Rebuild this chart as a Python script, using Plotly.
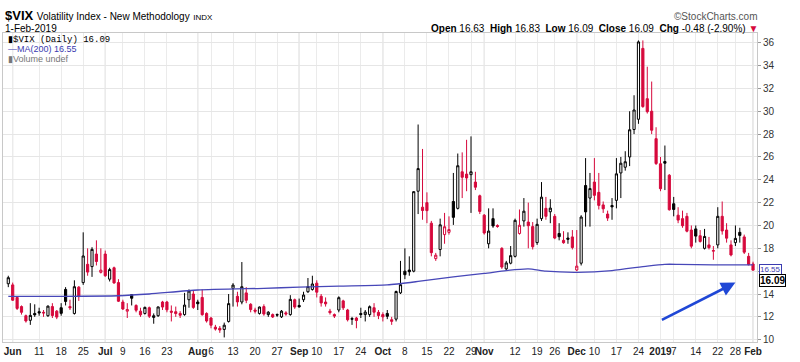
import plotly.graph_objects as go

# ---------------- data ----------------
dates = [
    "2018-05-31", "2018-06-01", "2018-06-04", "2018-06-05", "2018-06-06", "2018-06-07", "2018-06-08",
    "2018-06-11", "2018-06-12", "2018-06-13", "2018-06-14", "2018-06-15",
    "2018-06-18", "2018-06-19", "2018-06-20", "2018-06-21", "2018-06-22",
    "2018-06-25", "2018-06-26", "2018-06-27", "2018-06-28", "2018-06-29",
    "2018-07-02", "2018-07-03", "2018-07-05", "2018-07-06",
    "2018-07-09", "2018-07-10", "2018-07-11", "2018-07-12", "2018-07-13",
    "2018-07-16", "2018-07-17", "2018-07-18", "2018-07-19", "2018-07-20",
    "2018-07-23", "2018-07-24", "2018-07-25", "2018-07-26", "2018-07-27",
    "2018-07-30", "2018-07-31", "2018-08-01", "2018-08-02", "2018-08-03",
    "2018-08-06", "2018-08-07", "2018-08-08", "2018-08-09", "2018-08-10",
    "2018-08-13", "2018-08-14", "2018-08-15", "2018-08-16", "2018-08-17",
    "2018-08-20", "2018-08-21", "2018-08-22", "2018-08-23", "2018-08-24",
    "2018-08-27", "2018-08-28", "2018-08-29", "2018-08-30", "2018-08-31",
    "2018-09-04", "2018-09-05", "2018-09-06", "2018-09-07",
    "2018-09-10", "2018-09-11", "2018-09-12", "2018-09-13", "2018-09-14",
    "2018-09-17", "2018-09-18", "2018-09-19", "2018-09-20", "2018-09-21",
    "2018-09-24", "2018-09-25", "2018-09-26", "2018-09-27", "2018-09-28",
    "2018-10-01", "2018-10-02", "2018-10-03", "2018-10-04", "2018-10-05",
    "2018-10-08", "2018-10-09", "2018-10-10", "2018-10-11", "2018-10-12",
    "2018-10-15", "2018-10-16", "2018-10-17", "2018-10-18", "2018-10-19",
    "2018-10-22", "2018-10-23", "2018-10-24", "2018-10-25", "2018-10-26",
    "2018-10-29", "2018-10-30", "2018-10-31", "2018-11-01", "2018-11-02",
    "2018-11-05", "2018-11-06", "2018-11-07", "2018-11-08", "2018-11-09",
    "2018-11-12", "2018-11-13", "2018-11-14", "2018-11-15", "2018-11-16",
    "2018-11-19", "2018-11-20", "2018-11-21", "2018-11-23",
    "2018-11-26", "2018-11-27", "2018-11-28", "2018-11-29", "2018-11-30",
    "2018-12-03", "2018-12-04", "2018-12-06", "2018-12-07",
    "2018-12-10", "2018-12-11", "2018-12-12", "2018-12-13", "2018-12-14",
    "2018-12-17", "2018-12-18", "2018-12-19", "2018-12-20", "2018-12-21",
    "2018-12-24", "2018-12-26", "2018-12-27", "2018-12-28", "2018-12-31",
    "2019-01-02", "2019-01-03", "2019-01-04",
    "2019-01-07", "2019-01-08", "2019-01-09", "2019-01-10", "2019-01-11",
    "2019-01-14", "2019-01-15", "2019-01-16", "2019-01-17", "2019-01-18",
    "2019-01-22", "2019-01-23", "2019-01-24", "2019-01-25",
    "2019-01-28", "2019-01-29", "2019-01-30", "2019-01-31", "2019-02-01",
]

opens = [
    14.9, 14.8, 13.7, 12.9, 12.1, 11.7, 12.3,
    12.45, 12.4, 12.1, 12.9, 12.5,
    12.8, 14.4, 12.9, 12.3, 14.6,
    15.0, 16.6, 16.4, 17.5, 15.9,
    17.5, 15.3, 16.3, 15.0,
    13.3, 12.5, 13.95, 13.0, 12.5,
    12.3, 12.8, 11.95, 12.1, 13.3,
    13.3, 12.5, 12.45, 12.3, 12.2,
    13.5, 14.0, 13.3, 13.7, 12.3,
    11.9, 11.1, 11.0, 10.9, 11.6,
    14.5, 13.8, 13.3, 14.1, 13.1,
    12.6, 12.3, 12.9, 12.2, 12.2,
    12.2, 12.0, 12.35, 12.2, 13.5,
    13.0, 13.5, 14.2, 14.4,
    14.95, 13.8, 13.3, 12.5, 12.2,
    12.6, 13.4, 12.6, 11.85, 11.9,
    12.3, 12.2, 12.2, 12.8, 12.4,
    12.2, 12.3, 11.75, 11.8, 14.1,
    16.0, 16.1, 16.0, 23.0, 21.6,
    22.0, 20.2, 17.1, 17.9, 19.2,
    19.4, 22.1, 21.5, 24.7, 24.5,
    24.45, 23.8, 22.6, 20.9, 18.4,
    20.6, 20.0, 18.0, 16.2, 16.7,
    17.3, 19.3, 20.4, 20.3, 19.9,
    18.5, 20.6, 21.5, 21.2,
    20.8, 19.3, 18.7, 18.9, 19.0,
    16.1, 16.7, 23.5, 22.4,
    23.8, 22.9, 21.8, 21.0, 21.75,
    22.2, 24.6, 25.1, 26.0, 28.4,
    29.3, 35.5, 31.1, 30.0, 27.6,
    25.4, 25.6, 24.4,
    21.9, 20.9, 20.6, 20.8, 19.6,
    19.7, 19.1, 18.0, 18.3, 17.75,
    18.3, 20.8, 19.6, 18.3,
    18.5, 19.4, 19.0, 17.3, 16.63,
]

highs = [
    15.6, 15.0, 13.8, 13.0, 12.2, 13.2, 13.1,
    12.8, 12.6, 13.0, 13.2, 12.6,
    13.2, 14.6, 13.5, 15.2, 14.7,
    19.4, 18.0, 18.1, 18.7, 18.0,
    17.8, 16.3, 16.4, 15.3,
    13.5, 13.2, 14.0, 13.1, 12.8,
    12.9, 12.9, 12.3, 12.9, 13.4,
    13.4, 13.0, 12.9, 12.5, 14.1,
    14.4, 14.3, 13.5, 14.4, 12.4,
    12.0, 11.3, 11.2, 11.5, 14.0,
    14.95, 14.2, 16.8, 14.6, 13.2,
    12.8, 12.9, 13.1, 12.5, 12.3,
    12.3, 12.6, 12.5, 13.9, 13.6,
    13.6, 14.2, 15.4, 15.6,
    15.2, 14.0, 13.7, 12.7, 12.3,
    13.8, 13.5, 12.7, 12.0, 12.0,
    12.8, 12.6, 13.0, 13.2, 12.6,
    12.4, 12.6, 12.0, 14.3, 16.9,
    18.0, 17.3, 23.0, 28.84, 26.7,
    22.9, 20.4, 17.6, 20.6, 21.1,
    20.8, 24.6, 26.3, 26.4, 27.5,
    27.8, 24.7, 22.7, 21.0, 21.5,
    21.5, 20.1, 18.1, 16.9, 18.2,
    20.6, 21.4, 22.4, 22.0, 20.3,
    20.6, 23.8, 22.5, 22.3,
    21.0, 20.2, 19.5, 19.4, 19.6,
    19.6, 20.9, 25.9, 24.6,
    25.9, 24.6, 22.1, 21.3, 22.4,
    25.9, 26.0, 26.5, 30.0, 31.4,
    36.2, 36.2, 33.9, 32.6, 28.6,
    26.0, 27.0, 24.5,
    22.5, 21.6, 21.3, 21.1, 20.0,
    20.0, 19.6, 19.7, 19.0, 18.2,
    21.6, 22.1, 20.2, 18.7,
    20.0, 19.8, 19.2, 17.6, 16.83,
]

lows = [
    14.6, 13.4, 12.6, 12.2, 11.5, 11.3, 12.0,
    12.1, 12.0, 12.0, 11.9, 11.8,
    12.1, 13.0, 12.6, 12.2, 13.4,
    14.8, 15.6, 15.5, 16.5, 15.8,
    15.5, 15.1, 14.9, 13.3,
    12.6, 11.9, 13.0, 12.4, 12.0,
    12.2, 11.9, 11.4, 12.0, 12.6,
    12.4, 11.6, 12.0, 11.9, 12.1,
    12.8, 12.7, 12.6, 12.1, 11.5,
    11.0, 10.8, 10.6, 10.2, 11.5,
    12.9, 12.9, 13.1, 13.2, 12.4,
    12.3, 12.2, 12.1, 12.0, 11.9,
    12.0, 11.9, 12.1, 12.1, 12.7,
    12.8, 13.3, 14.1, 14.3,
    13.7, 12.9, 12.9, 12.2, 11.9,
    12.4, 12.6, 11.6, 11.3, 11.0,
    11.9, 11.6, 12.0, 12.0, 11.8,
    11.6, 11.8, 11.3, 11.6, 14.0,
    15.3, 15.6, 15.9, 21.0, 20.5,
    20.2, 17.3, 16.9, 17.3, 18.4,
    19.2, 20.05, 21.4, 22.4, 23.0,
    21.1, 23.1, 21.0, 19.2, 18.0,
    19.8, 19.8, 16.2, 16.1, 16.6,
    17.2, 19.2, 19.9, 18.0, 17.9,
    18.3, 20.4, 20.5, 20.2,
    18.8, 18.7, 18.4, 18.4, 17.9,
    16.0, 16.5, 19.9, 19.9,
    22.2, 21.4, 21.1, 20.4, 20.5,
    21.5, 22.4, 24.8, 25.2, 28.0,
    28.9, 30.3, 29.8, 28.0, 25.3,
    23.0, 23.1, 21.3,
    20.8, 20.2, 19.8, 19.4, 18.0,
    18.5, 18.5, 17.9, 17.9, 17.0,
    18.0, 19.2, 18.5, 17.3,
    18.2, 18.5, 17.5, 16.5, 16.09,
]

closes = [
    15.43, 13.46, 12.74, 12.40, 11.64, 12.13, 12.18,
    12.35, 12.34, 12.94, 12.12, 11.98,
    12.31, 13.35, 12.79, 14.64, 13.77,
    17.33, 15.92, 17.91, 16.85, 16.09,
    15.60, 16.14, 14.97, 13.37,
    12.69, 12.64, 13.63, 12.58, 12.18,
    12.83, 12.06, 12.10, 12.87, 12.86,
    12.62, 12.41, 12.29, 12.14, 13.03,
    14.26, 12.83, 13.15, 12.19, 11.64,
    11.27, 10.93, 10.85, 11.27, 13.16,
    14.78, 13.31, 14.64, 13.45, 12.64,
    12.49, 12.86, 12.25, 12.41, 11.99,
    12.16, 12.50, 12.25, 13.53, 12.86,
    12.88, 13.91, 14.65, 14.88,
    14.16, 13.22, 13.14, 12.37, 12.07,
    13.68, 12.79, 11.75, 11.80, 11.68,
    12.20, 12.42, 12.89, 12.41, 12.12,
    12.00, 12.05, 11.61, 14.22, 14.82,
    15.69, 15.95, 22.96, 24.98, 21.31,
    21.30, 17.62, 17.40, 20.06, 19.89,
    19.64, 20.71, 25.23, 24.22, 24.16,
    24.70, 23.35, 21.23, 19.34, 19.51,
    19.96, 19.91, 16.36, 16.72, 17.36,
    20.45, 20.02, 21.25, 19.98, 18.14,
    20.10, 22.48, 20.80, 21.52,
    18.90, 19.02, 18.49, 18.79, 18.07,
    16.44, 20.74, 21.19, 23.23,
    22.64, 21.76, 21.46, 20.65, 21.63,
    24.52, 25.45, 25.58, 28.38, 30.11,
    36.07, 30.41, 29.96, 28.34, 25.42,
    23.22, 25.45, 21.38,
    21.40, 20.47, 19.98, 19.50, 18.19,
    19.07, 18.60, 19.04, 18.06, 17.80,
    20.80, 19.52, 18.89, 17.42,
    18.87, 19.13, 17.66, 16.57, 16.09,
]

# 200-day moving average at sample dates
ma_dates = ["2018-05-31", "2018-06-18", "2018-07-06", "2018-07-17", "2018-08-01",
            "2018-08-22", "2018-09-04", "2018-09-17", "2018-10-02", "2018-10-11",
            "2018-10-23", "2018-11-01", "2018-11-08", "2018-11-15", "2018-11-21",
            "2018-12-03", "2018-12-14", "2018-12-27", "2019-01-03", "2019-01-08",
            "2019-01-18", "2019-02-01"]
ma_values = [13.8, 13.8, 13.85, 14.0, 14.35,
             14.5, 14.6, 14.7, 14.8, 15.1,
             15.5, 15.8, 16.05, 16.2, 16.0,
             15.9, 16.05, 16.45, 16.6, 16.6,
             16.55, 16.55]

tick_dates = ["2018-06-01", "2018-06-11", "2018-06-18", "2018-06-25", "2018-07-02",
              "2018-07-09", "2018-07-16", "2018-07-23", "2018-08-01", "2018-08-06",
              "2018-08-13", "2018-08-20", "2018-08-27", "2018-09-04", "2018-09-10",
              "2018-09-17", "2018-09-24", "2018-10-01", "2018-10-08", "2018-10-15",
              "2018-10-22", "2018-10-29", "2018-11-01", "2018-11-12", "2018-11-19",
              "2018-11-26", "2018-12-03", "2018-12-10", "2018-12-17", "2018-12-24",
              "2019-01-02", "2019-01-07", "2019-01-14", "2019-01-22", "2019-01-28",
              "2019-02-01"]
tick_labels = ["<b>Jun</b>", "11", "18", "25", "<b>Jul</b>", "9", "16", "23", "<b>Aug</b>", "6",
               "13", "20", "27", "<b>Sep</b>", "10", "17", "24", "<b>Oct</b>", "8", "15",
               "22", "29", "<b>Nov</b>", "12", "19", "26", "<b>Dec</b>", "10", "17", "24",
               "<b>2019</b>", "7", "14", "22", "28", "<b>Feb</b>"]
month_dates = ["2018-06-01", "2018-07-02", "2018-08-01", "2018-09-04", "2018-10-01",
               "2018-11-01", "2018-12-03", "2019-01-02", "2019-02-01"]

y_ticks = list(range(10, 37, 2))

# ---------------- styling / layout ----------------
W, H = 800, 362
L, R, T, B = 3, 757, 33, 342
RED = "#d6093c"
BLACK = "#000000"
FONT = "Liberation Sans, Arial, sans-serif"


def px(x):
    return (x - L) / (R - L)


def py(y):
    return (B - y) / (B - T)


# split candles into StockCharts colour groups: black = close up vs previous, red = close down
groups = {"black": ([], [], [], [], []), "red": ([], [], [], [], [])}
for i, d in enumerate(dates):
    up = i == 0 or closes[i] >= closes[i - 1]
    g = groups["black" if up else "red"]
    g[0].append(d); g[1].append(opens[i]); g[2].append(highs[i]); g[3].append(lows[i]); g[4].append(closes[i])

fig = go.Figure()
for name, col in (("black", BLACK), ("red", RED)):
    d, o, h, l, c = groups[name]
    fig.add_trace(go.Candlestick(
        x=d, open=o, high=h, low=l, close=c,
        increasing=dict(line=dict(color=col, width=1), fillcolor="#ffffff"),
        decreasing=dict(line=dict(color=col, width=1), fillcolor=col),
        whiskerwidth=0, showlegend=False, hoverinfo="skip",
    ))

fig.add_trace(go.Scatter(x=ma_dates, y=ma_values, mode="lines",
                         line=dict(color="#4747b8", width=1.3, shape="spline", smoothing=0.6),
                         showlegend=False, hoverinfo="skip"))

shapes = []
for md in month_dates:
    k = dates.index(md)
    shapes.append(dict(type="line", xref="x", yref="paper", x0=k, x1=k, y0=0, y1=1,
                       line=dict(color="#cfcfcf", width=1), layer="below"))

ann = []
# header
ann.append(dict(x=px(3), y=py(15), xref="paper", yref="paper", xanchor="left", yanchor="middle",
                showarrow=False, align="left",
                text="<b>$VIX</b> <span style='font-size:10px'>Volatility Index - New Methodology</span>"
                     " <span style='font-size:8px'>INDX</span>",
                font=dict(family=FONT, size=13, color="#000")))
ann.append(dict(x=px(3), y=py(28), xref="paper", yref="paper", xanchor="left", yanchor="middle",
                showarrow=False, text="1-Feb-2019", font=dict(family=FONT, size=10, color="#000")))
ann.append(dict(x=px(760), y=py(16), xref="paper", yref="paper", xanchor="right", yanchor="middle",
                showarrow=False, text="©StockCharts.com", font=dict(family=FONT, size=10, color="#555")))
ann.append(dict(x=px(760), y=py(28), xref="paper", yref="paper", xanchor="right", yanchor="middle",
                showarrow=False,
                text="<b>Open</b> 16.63  <b>High</b> 16.83  <b>Low</b> 16.09  <b>Close</b> 16.09  "
                     "<b>Chg</b> -0.48 (-2.90%) <span style='color:#d6093c'>▼</span>",
                font=dict(family=FONT, size=10, color="#000")))
# in-plot legend
ann.append(dict(x=px(6), y=py(40), xref="paper", yref="paper", xanchor="left", yanchor="middle",
                showarrow=False, text="<span style='font-family:Liberation Sans'>▮</span>$VIX (Daily) 16.09",
                font=dict(family="Liberation Mono, DejaVu Sans Mono, monospace", size=9, color="#000")))
ann.append(dict(x=px(6), y=py(49.5), xref="paper", yref="paper", xanchor="left", yanchor="middle",
                showarrow=False, text="—MA(200) 16.55",
                font=dict(family=FONT, size=9, color="#3b3bb0")))
ann.append(dict(x=px(6), y=py(59), xref="paper", yref="paper", xanchor="left", yanchor="middle",
                showarrow=False, text="▮Volume undef",
                font=dict(family=FONT, size=9, color="#777")))
# price tags on right axis
ann.append(dict(x=px(759), y=py(269), xref="paper", yref="paper", xanchor="left", yanchor="middle",
                showarrow=False, text="16.55", font=dict(family=FONT, size=8, color="#3b3bb0"),
                bordercolor="#3b3bb0", borderwidth=1, borderpad=0, bgcolor="#ffffff"))
ann.append(dict(x=px(759), y=py(280), xref="paper", yref="paper", xanchor="left", yanchor="middle",
                showarrow=False, text="<b>16.09</b>", font=dict(family=FONT, size=10, color="#000"),
                bordercolor="#000", borderwidth=1, borderpad=0, bgcolor="#ffffff"))
# blue arrow
ann.append(dict(x="2019-01-28", y=15.0, xref="x", yref="y", ax=-75, ay=38, text="",
                showarrow=True, arrowhead=2, arrowsize=1.1, arrowwidth=2.6, arrowcolor="#1f47d6"))

fig.update_layout(
    width=W, height=H,
    margin=dict(l=L, r=W - R, t=T, b=H - B, autoexpand=False),
    paper_bgcolor="#ffffff", plot_bgcolor="#ffffff",
    font=dict(family=FONT, size=10, color="#222"),
    shapes=shapes, annotations=ann,
    showlegend=False,
    hovermode=False,
    xaxis=dict(
        type="category", categoryorder="array", categoryarray=dates,
        range=[-1.2, len(dates) - 0.1],
        rangeslider=dict(visible=False),
        tickmode="array", tickvals=tick_dates, ticktext=tick_labels,
        tickangle=0, automargin=False,
        tickfont=dict(family=FONT, size=10, color="#222"),
        showgrid=True, gridcolor="#ebebeb", gridwidth=1,
        showline=True, linecolor="#c8c8c8", mirror=True,
        ticks="", zeroline=False,
    ),
    yaxis=dict(
        side="right", range=[9.8, 36.85], automargin=False,
        tickmode="array", tickvals=y_ticks, ticktext=[str(v) for v in y_ticks],
        tickfont=dict(family=FONT, size=10, color="#333"),
        showgrid=True, gridcolor="#e6e6e6", gridwidth=1,
        showline=True, linecolor="#c8c8c8", mirror=True,
        ticks="outside", ticklen=3, tickcolor="#999", zeroline=False,
    ),
)

fig.write_html("out.html", config={"displayModeBar": False},
               post_script="document.body.style.margin='0';document.body.style.overflow='hidden';")
